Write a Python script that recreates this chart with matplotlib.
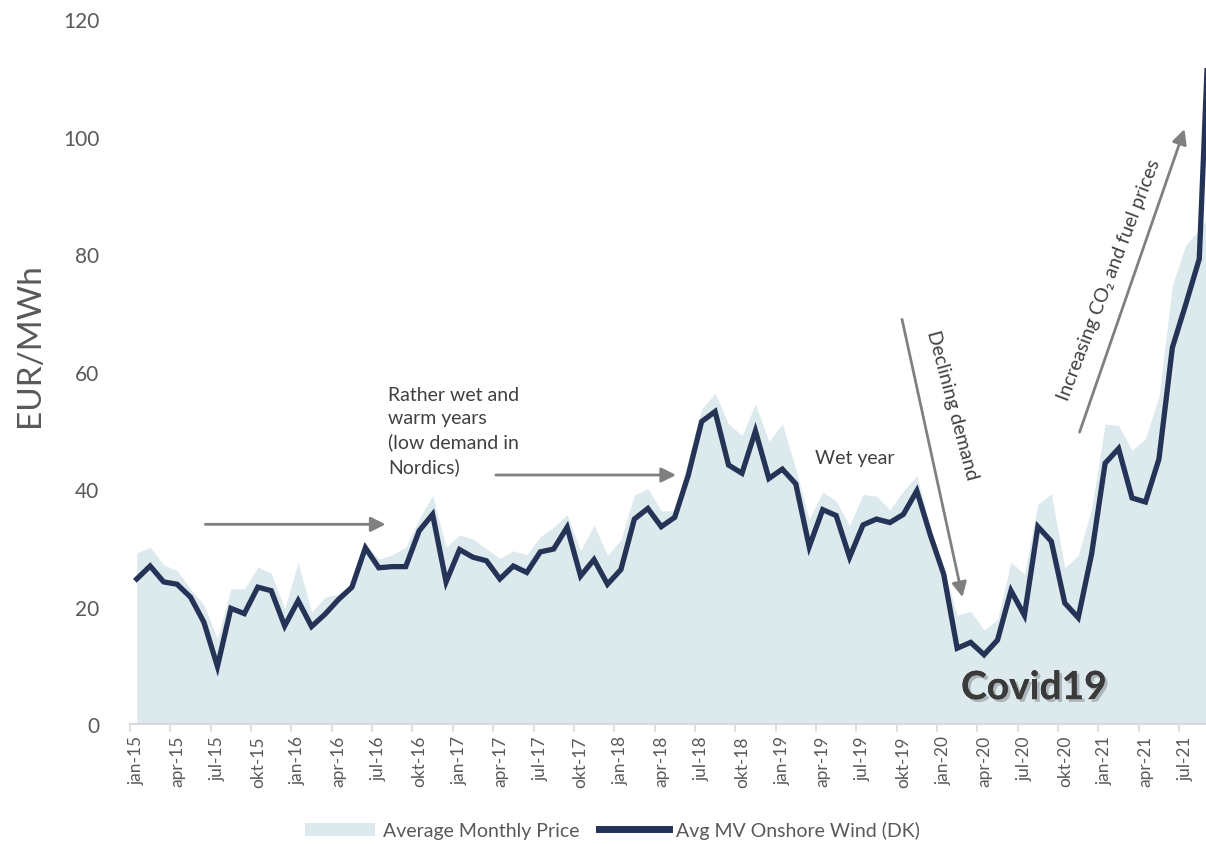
import matplotlib
matplotlib.use("Agg")
import matplotlib.pyplot as plt
import matplotlib.patheffects as pe
from matplotlib.patches import Patch
from matplotlib.lines import Line2D
import numpy as np

plt.rcParams['font.family'] = ['Lato', 'DejaVu Sans']

# Monthly series, jan-15 .. sep-21 (EUR/MWh)
avg_monthly_price = [
    29.1, 30.1, 27.1, 26.1, 23.0, 20.3, 14.5, 23.0, 23.0, 26.7, 25.7, 19.6,
    27.5, 19.0, 21.6, 22.1, 23.5, 30.6, 28.1, 28.8, 30.1, 34.9, 38.9, 30.1,
    32.2, 31.5, 29.8, 28.2, 29.5, 28.8, 31.9, 33.5, 35.7, 29.5, 33.9, 28.7,
    31.4, 39.0, 40.1, 36.3, 36.3, 45.0, 53.6, 56.3, 51.1, 49.1, 54.5, 48.1,
    51.1, 43.4, 34.9, 39.5, 38.0, 33.8, 39.1, 38.8, 36.5, 39.7, 42.3, 33.5,
    26.5, 18.5, 19.2, 16.0, 17.8, 27.6, 25.5, 37.4, 39.2, 26.6, 28.7, 36.7,
    51.1, 50.8, 46.6, 48.6, 55.7, 74.7, 81.6, 84.1, 87.6,
]
avg_mv_onshore_wind = [
    24.7, 26.9, 24.2, 23.8, 21.6, 17.3, 9.8, 19.7, 18.8, 23.3, 22.7, 16.7,
    21.0, 16.6, 18.7, 21.2, 23.3, 30.0, 26.6, 26.8, 26.8, 32.9, 35.7, 24.2,
    29.7, 28.4, 27.8, 24.7, 26.9, 25.8, 29.3, 29.8, 33.5, 25.2, 28.0, 23.8,
    26.3, 34.9, 36.7, 33.6, 35.2, 42.3, 51.5, 53.2, 44.1, 42.7, 49.9, 41.8,
    43.4, 40.9, 30.2, 36.5, 35.5, 28.4, 33.9, 34.9, 34.3, 35.7, 39.7, 32.2,
    25.5, 12.9, 13.9, 11.8, 14.3, 22.7, 18.5, 33.6, 31.1, 20.6, 18.1, 29.0,
    44.4, 46.9, 38.5, 37.8, 45.1, 64.1, 71.5, 79.2, 135.0,
]
month_names = ['jan', 'feb', 'mar', 'apr', 'maj', 'jun',
               'jul', 'aug', 'sep', 'okt', 'nov', 'dec']
first_year = 15
y_ticks = [0, 20, 40, 60, 80, 100, 120]

n = len(avg_monthly_price)
x = np.arange(n)
month_labels = [f"{month_names[i % 12]}-{first_year + i // 12}" for i in range(n)]

AREA_COLOR = '#dce9ed'
LINE_COLOR = '#243356'
TEXT_COLOR = '#404040'
TICK_COLOR = '#595959'
ARROW_COLOR = '#808080'

fig = plt.figure(figsize=(12.06, 8.45), dpi=100)
ax = fig.add_axes([0.1078, 0.142, 0.8922, 0.834])

ax.fill_between(x, 0, avg_monthly_price, color=AREA_COLOR, lw=0)
ax.plot(x, avg_mv_onshore_wind, color=LINE_COLOR, lw=3.8, solid_joinstyle='miter')

ax.set_xlim(-0.5, 79.5)
ax.set_ylim(0, 120)

# y axis
ax.set_yticks(y_ticks)
ax.set_yticklabels([str(v) for v in y_ticks])
ax.tick_params(axis='y', length=0, pad=22, labelsize=15, labelcolor=TICK_COLOR)

# x axis: tick marks between categories, labels at category centres
label_idx = x[::3]
ax.set_xticks(label_idx - 0.5)
ax.set_xticklabels([])
ax.set_xticks(label_idx, minor=True)
ax.set_xticklabels([month_labels[i] for i in label_idx], minor=True, rotation=90)
ax.tick_params(axis='x', which='major', length=6, width=1.2, color='#d9d9d9')
ax.tick_params(axis='x', which='minor', length=0, pad=8, labelsize=12.5,
               labelcolor=TICK_COLOR)

for side in ['left', 'right', 'top']:
    ax.spines[side].set_visible(False)
ax.spines['bottom'].set_color('#d9d9d9')
ax.spines['bottom'].set_linewidth(1.5)

fig.text(0.025, 1 - 345 / 845, 'EUR/MWh', rotation=90, ha='center', va='center',
         fontsize=24, color=TICK_COLOR)

arrow_kw = dict(arrowstyle='-|>', color=ARROW_COLOR, lw=2, mutation_scale=22,
                shrinkA=0, shrinkB=0)

# Annotations
ax.annotate('', xy=(18.5, 34.0), xytext=(5.1, 34.0), arrowprops=arrow_kw)
ax.annotate('', xy=(40.1, 42.4), xytext=(26.7, 42.4), arrowprops=arrow_kw)
ax.annotate('', xy=(61.4, 21.6), xytext=(56.9, 68.9), arrowprops=arrow_kw)
ax.annotate('', xy=(77.9, 101.3), xytext=(70.1, 49.7), arrowprops=arrow_kw)

ax.text(18.7, 57.6, 'Rather wet and\nwarm years\n(low demand in\nNordics)',
        ha='left', va='top', fontsize=14, color=TEXT_COLOR, linespacing=1.45)
ax.text(53.4, 45.4, 'Wet year', ha='center', va='center', fontsize=14,
        color=TEXT_COLOR)
ax.text(60.6, 54.5, 'Declining demand', ha='center', va='center', fontsize=14,
        color=TEXT_COLOR, rotation=-75, rotation_mode='anchor')
ax.text(72.3, 75.7, 'Increasing CO\u2082 and fuel prices', ha='center', va='center',
        fontsize=14, color=TEXT_COLOR, rotation=69, rotation_mode='anchor')

ax.text(66.7, 6.2, 'Covid19', ha='center', va='center', fontsize=28,
        fontweight='bold', color='#3a3a3a',
        path_effects=[pe.withSimplePatchShadow(offset=(2, -2), alpha=0.35,
                                               shadow_rgbFace='#555555'),
                      pe.Normal()])

handles = [Patch(facecolor=AREA_COLOR, edgecolor='none'),
           Line2D([0], [0], color=LINE_COLOR, lw=5)]
fig.legend(handles, ['Average Monthly Price', 'Avg MV Onshore Wind (DK)'],
           loc='lower center', bbox_to_anchor=(0.508, -0.015), ncol=2,
           frameon=False, fontsize=14, handlelength=3.6, handleheight=0.7,
           columnspacing=1.0, handletextpad=0.4, labelcolor=TICK_COLOR)

fig.savefig('out.png', dpi=100)
